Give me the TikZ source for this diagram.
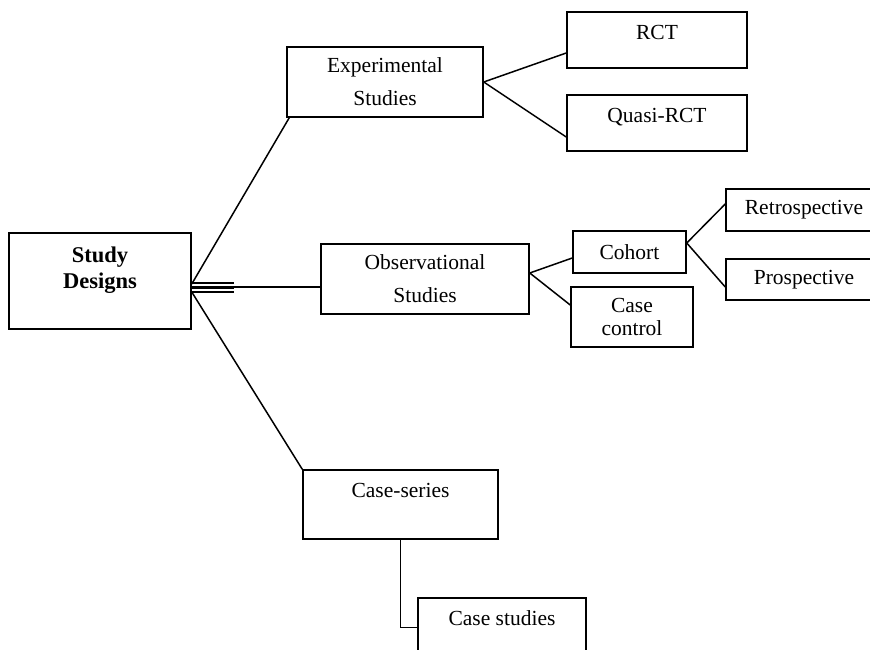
\documentclass[tikz,border=0pt]{standalone}
\usepackage{fontspec}
\setmainfont{Liberation Serif}

\begin{document}
\begin{tikzpicture}[
  x=1pt, y=-1pt,
  font=\fontsize{21.5}{26}\selectfont,
  box/.style={rectangle, draw=black, line width=1.5pt, inner sep=0pt, align=center},
  wide/.style={box, font=\fontsize{21.5}{33}\selectfont, minimum height=70pt},
  low/.style={box, text depth=15pt, minimum width=180pt, minimum height=56pt},
  link/.style={draw=black, line width=1.5pt},
  bus/.style={draw=black, line width=2.2pt}
]
\useasboundingbox (0,0) rectangle (870,650);
\clip (0,0) rectangle (870,650);

% root
\node[box, font=\bfseries\fontsize{22.5}{26}\selectfont, minimum width=182pt,
      minimum height=96pt] (design) at (100,281) {Study\\Designs\\~};

% first level
\node[wide, minimum width=196pt] (exper) at (385,82) {Experimental\\Studies};
\node[wide, minimum width=208pt] (obs) at (425,279) {Observational\\Studies};
\node[box, text depth=28pt, minimum width=195pt, minimum height=69pt] (series) at (400.5,504.5) {Case-series};

% second level
\node[low] (rct)   at (657,40)  {RCT};
\node[low] (quasi) at (657,123) {Quasi-RCT};
\node[box, minimum width=113pt, minimum height=42pt] (cohort) at (629.5,252) {Cohort};
\node[box, font=\fontsize{21.5}{23}\selectfont, minimum width=122pt,
      minimum height=60pt] (casectl) at (632,317) {Case\\control};
\node[box, text depth=28pt, minimum width=168pt, minimum height=69pt] (studies) at (502,632.5) {Case studies};

% third level
\node[box, minimum width=156pt, minimum height=42pt] (retro) at (804,210)   {Retrospective};
\node[box, minimum width=156pt, minimum height=41pt] (prosp) at (804,279.5) {Prospective};

% links from the root
\coordinate (hub) at ([xshift=42pt]design.east);
\foreach \dy in {2,6.5,11}
  \draw[bus] ([yshift=-\dy pt]design.east) -- ([yshift=-\dy pt]hub);
\draw[link] ([yshift=-6pt]hub) -- ([yshift=-8pt]obs.west);
\draw[link] ([yshift=-3pt]design.east) -- ([xshift=3pt]exper.south west);
\draw[link] ([yshift=-11pt]design.east) -- (series.north west);

% branches
\draw[link] (exper.east) -- ([yshift=-13pt]rct.west);
\draw[link] (exper.east) -- ([yshift=-14pt]quasi.west);
\draw[link] ([yshift=6pt]obs.east) -- ([yshift=-6pt]cohort.west);
\draw[link] ([yshift=6pt]obs.east) -- ([yshift=12pt]casectl.west);
\draw[link] ([yshift=9pt]cohort.east) -- ([yshift=6pt]retro.west);
\draw[link] ([yshift=9pt]cohort.east) -- ([yshift=-7.5pt]prosp.west);
\draw[link] (series.south) |- ([yshift=5pt]studies.west);
\end{tikzpicture}
\end{document}
